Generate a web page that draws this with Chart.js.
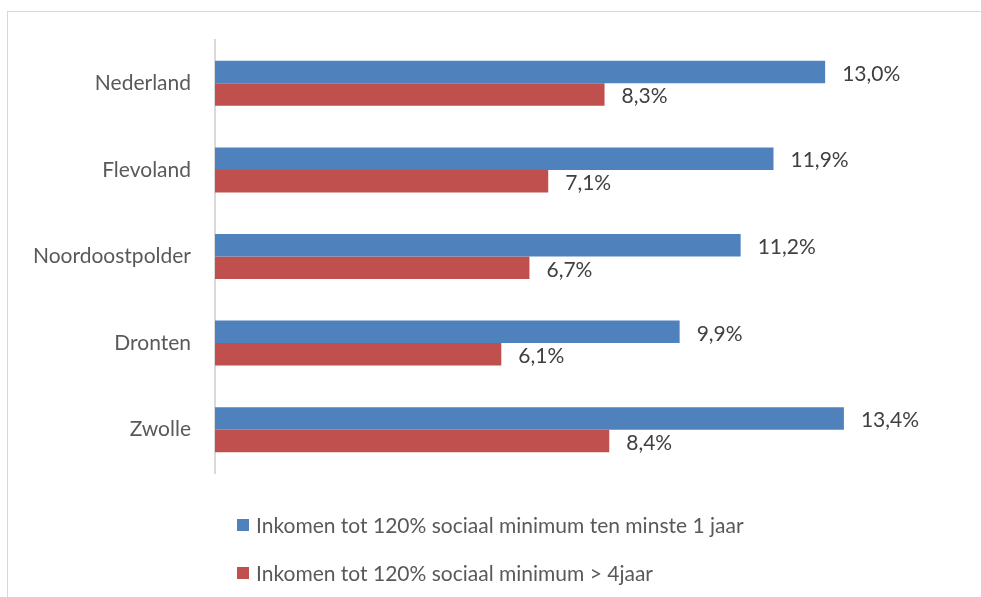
<!DOCTYPE html>
<html><head><meta charset="utf-8">
<script src="https://cdn.jsdelivr.net/npm/chart.js@4"></script>
<style>html,body{margin:0;padding:0;background:#fff}#wrap{width:981px;height:597px;position:relative}</style>
</head><body><div id="wrap"><canvas id="c" width="981" height="597"></canvas></div>
<script>
const categories = ["Nederland", "Flevoland", "Noordoostpolder", "Dronten", "Zwolle"];
const series1Label = "Inkomen tot 120% sociaal minimum ten minste 1 jaar";
const series1 = [13.0, 11.9, 11.2, 9.9, 13.4];
const series2Label = "Inkomen tot 120% sociaal minimum > 4jaar";
const series2 = [8.3, 7.1, 6.7, 6.1, 8.4];

const FONT = "Lato, 'Open Sans', sans-serif";
const FSIZE = 21;

const framePlugin = {
  id: 'frame',
  beforeDraw(chart) {
    const ctx = chart.ctx;
    ctx.save();
    ctx.fillStyle = '#fff';
    ctx.fillRect(0, 0, chart.width, chart.height);
    ctx.strokeStyle = '#d9d9d9';
    ctx.lineWidth = 1;
    ctx.strokeRect(7.5, 11.5, 1100, 1100);
    ctx.restore();
  }
};

const labelPlugin = {
  id: 'valueLabels',
  afterDatasetsDraw(chart) {
    const ctx = chart.ctx;
    ctx.save();
    ctx.font = FSIZE + "px " + FONT;
    ctx.fillStyle = '#404040';
    ctx.textAlign = 'left';
    ctx.textBaseline = 'middle';
    chart.data.datasets.forEach((ds, i) => {
      const meta = chart.getDatasetMeta(i);
      meta.data.forEach((bar, j) => {
        const txt = ds.data[j].toFixed(1).replace('.', ',') + '%';
        ctx.fillText(txt, bar.x + 17, bar.y + 2);
      });
    });
    ctx.restore();
  }
};

const legendPlugin = {
  id: 'customLegend',
  afterDraw(chart) {
    const ctx = chart.ctx;
    ctx.save();
    ctx.font = FSIZE + "px " + FONT;
    ctx.textBaseline = 'middle';
    ctx.textAlign = 'left';
    chart.data.datasets.forEach((ds, i) => {
      const y = 525 + i * 48;
      ctx.fillStyle = ds.backgroundColor;
      ctx.fillRect(237, y - 6, 12, 12);
      ctx.fillStyle = '#595959';
      ctx.fillText(ds.label, 256, y + 1);
    });
    ctx.restore();
  }
};

new Chart(document.getElementById('c'), {
  type: 'bar',
  data: {
    labels: categories,
    datasets: [
      { label: series1Label, data: series1, backgroundColor: '#4F81BD', borderWidth: 0 },
      { label: series2Label, data: series2, backgroundColor: '#C0504D', borderWidth: 0 }
    ]
  },
  options: {
    indexAxis: 'y',
    responsive: false,
    animation: false,
    devicePixelRatio: 1,
    layout: { padding: { left: 0, top: 40, right: 62, bottom: 124 } },
    datasets: { bar: { categoryPercentage: 0.52, barPercentage: 1.0 } },
    plugins: { legend: { display: false }, tooltip: { enabled: false } },
    scales: {
      x: { display: false, min: 0, max: 15 },
      y: {
        afterFit(scale) { scale.width = 215; },
        grid: { display: false, drawTicks: false },
        border: { display: true, color: '#d9d9d9', width: 2 },
        ticks: { padding: 24, color: '#595959', font: { family: FONT, size: FSIZE } }
      }
    }
  },
  plugins: [framePlugin, labelPlugin, legendPlugin]
});
</script></body></html>
